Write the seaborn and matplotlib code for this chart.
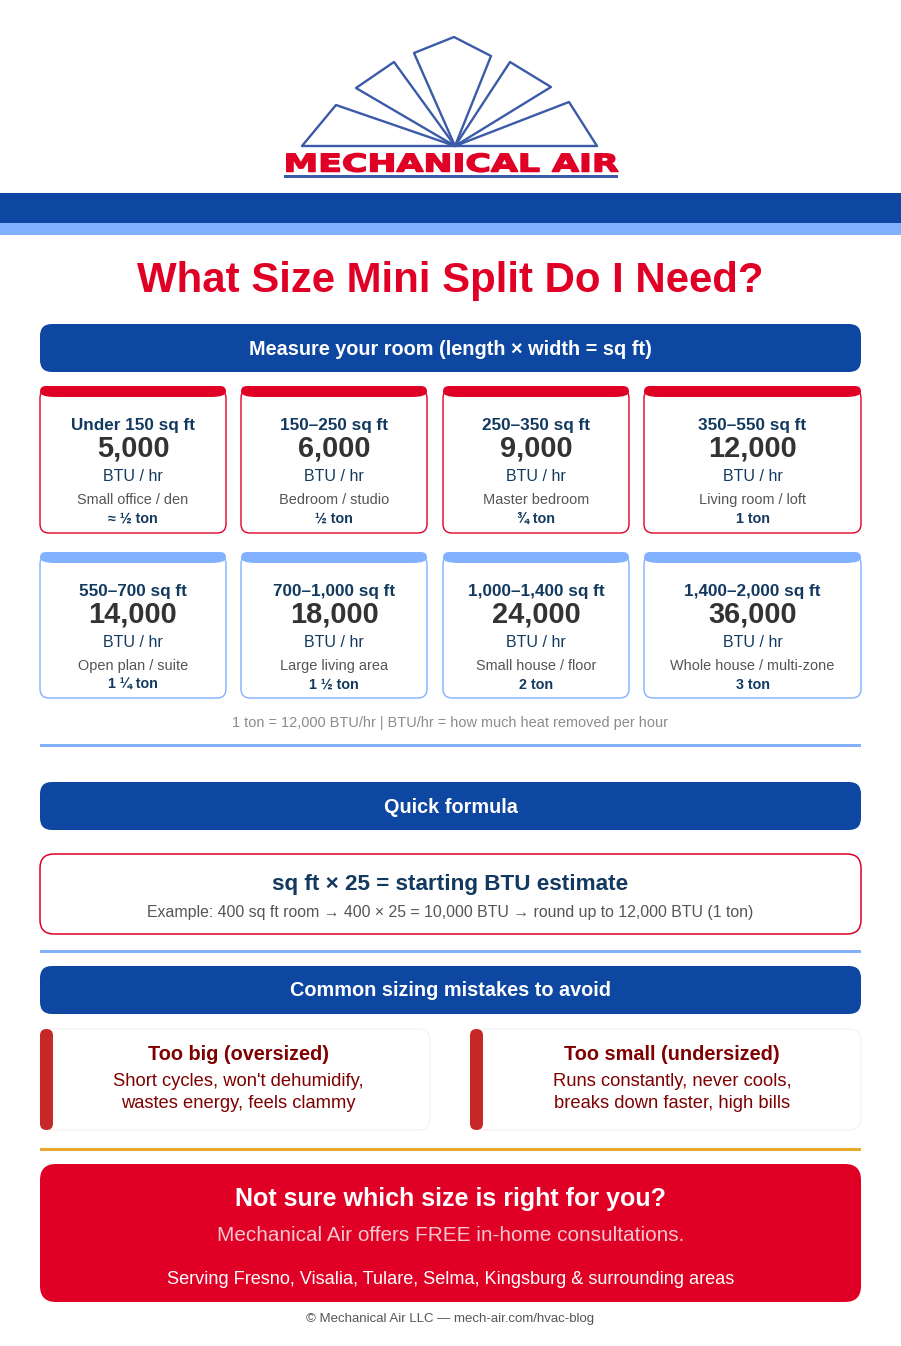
import matplotlib.pyplot as plt
import seaborn as sns
from matplotlib.patches import FancyBboxPatch, PathPatch, Polygon, Rectangle
from matplotlib.path import Path
from matplotlib.patheffects import AbstractPathEffect
from matplotlib.transforms import Affine2D

sns.set_theme(style="white")
plt.rcParams["font.family"] = ["Liberation Sans", "DejaVu Sans"]

BLUE = "#0D47A1"
LIGHT = "#82B1FF"
RED = "#E00025"
NAVY = "#12395F"
DARK = "#333333"
GREY = "#555555"
MAROON = "#7F0000"

# card contents
sizes_top = ["Under 150 sq ft", "150–250 sq ft", "250–350 sq ft", "350–550 sq ft"]
btu_top = [5000, 6000, 9000, 12000]
rooms_top = ["Small office / den", "Bedroom / studio", "Master bedroom", "Living room / loft"]
tons_top = ["≈ ½ ton", "½ ton", "¾ ton", "1 ton"]

sizes_bot = ["550–700 sq ft", "700–1,000 sq ft", "1,000–1,400 sq ft", "1,400–2,000 sq ft"]
btu_bot = [14000, 18000, 24000, 36000]
rooms_bot = ["Open plan / suite", "Large living area", "Small house / floor", "Whole house / multi-zone"]
tons_bot = ["1 ¼ ton", "1 ½ ton", "2 ton", "3 ton"]

mistake_titles = ["Too big (oversized)", "Too small (undersized)"]
mistake_text = ["Short cycles, won't dehumidify,\nwastes energy, feels clammy",
                "Runs constantly, never cools,\nbreaks down faster, high bills"]

fig = plt.figure(figsize=(9.01, 13.46), dpi=100, facecolor="white")
ax = fig.add_axes([0, 0, 1, 1])
ax.set_xlim(0, 901)
ax.set_ylim(1346, 0)
ax.axis("off")


class WideText(AbstractPathEffect):
    # widens text around a display x and thickens it, for the logo lettering
    def __init__(self, xc, sx, bold):
        super().__init__()
        self.widen = Affine2D().translate(-xc, 0).scale(sx, 1).translate(xc, 0)
        self.bold = bold

    def draw_path(self, renderer, gc, tpath, affine, rgbFace=None):
        gc0 = renderer.new_gc()
        gc0.copy_properties(gc)
        gc0.set_linewidth(self.bold)
        gc0.set_foreground(rgbFace)
        renderer.draw_path(gc0, tpath, affine + self.widen, rgbFace)
        gc0.restore()


def rbox(x0, y0, x1, y1, r, fc="none", ec="none", lw=0, z=2):
    ax.add_patch(FancyBboxPatch((x0, y0), x1 - x0, y1 - y0,
                                boxstyle=f"round,pad=0,rounding_size={r}",
                                fc=fc, ec=ec, lw=lw, zorder=z))


def card_bar(x0, y0, x1, col):
    # coloured top edge of a card: tight top corners, long tapering bottom corners
    h, rt, rb = 11, 6, 15
    mid = y0 + h / 2
    verts = [(x0 + rt, y0), (x1 - rt, y0), (x1, y0), (x1, mid), (x1, y0 + h), (x1 - rb, y0 + h),
             (x0 + rb, y0 + h), (x0, y0 + h), (x0, mid), (x0, y0), (x0 + rt, y0)]
    codes = [Path.MOVETO, Path.LINETO, Path.CURVE3, Path.CURVE3, Path.CURVE3, Path.CURVE3,
             Path.LINETO, Path.CURVE3, Path.CURVE3, Path.CURVE3, Path.CURVE3]
    ax.add_patch(PathPatch(Path(verts, codes), fc=col, ec="none", zorder=3))


def label(x, y, s, px, color, bold=False, **kw):
    # y is the middle of the capitals
    ax.text(x, y + 0.36 * px, s, fontsize=px * 0.72, color=color, ha="center", va="baseline",
            fontweight="bold" if bold else "normal", zorder=5, **kw)


def header(y0, s, dy=0):
    rbox(40, y0, 861, y0 + 48, 12, fc=BLUE)
    label(450.5, y0 + 24 + dy, s, 19.85, "white", bold=True)


def divider(y, color=LIGHT):
    ax.add_patch(Rectangle((40, y - 1.5), 821, 3, fc=color, ec="none", zorder=2))


############################### logo ################################
logo_c = "#3B5BA9"
apex = (455, 146)
fans = [[(302, 146), (336, 105), apex, (569, 102), (597, 146)],
        [(356, 88), (394, 62), apex],
        [(414, 53), (454, 37), (491, 56), apex],
        [(510, 62), (551, 87), apex]]
for pts in fans:
    ax.add_patch(Polygon(pts, closed=True, fill=False, ec=logo_c, lw=1.7, joinstyle="round"))
t = ax.text(451, 171.5, "MECHANICAL AIR", fontsize=17.5, color=RED, ha="center", va="baseline",
            fontweight="bold", family="DejaVu Sans")
t.set_path_effects([WideText(451, 1.43, 1.1)])
ax.add_patch(Rectangle((284, 175), 334, 2.6, fc=logo_c, ec="none"))

ax.add_patch(Rectangle((0, 193), 901, 30, fc=BLUE, ec="none"))
ax.add_patch(Rectangle((0, 223), 901, 12, fc=LIGHT, ec="none"))

label(450.5, 277, "What Size Mini Split Do I Need?", 42, RED, bold=True)

############################### cards ################################
header(324, "Measure your room (length × width = sq ft)")

card_x = [(40, 226), (241, 427), (443, 629), (644, 861)]
rows = [(386, 533, RED, sizes_top, btu_top, rooms_top, tons_top),
        (552, 698, LIGHT, sizes_bot, btu_bot, rooms_bot, tons_bot)]
for y0, y1, col, sizes, btus, rooms, tons in rows:
    for i, (x0, x1) in enumerate(card_x):
        xc = (x0 + x1) / 2
        rbox(x0, y0 + 3, x1, y1, 9, fc="white", ec=col, lw=1.0)
        card_bar(x0, y0, x1, col)
        label(xc, y0 + 38, sizes[i], 17.1, NAVY, bold=True)
        label(xc, y0 + 60.5, f"{btus[i]:,}", 29, DARK, bold=True)
        label(xc, y0 + 89, "BTU / hr", 16, NAVY)
        label(xc, y0 + 113, rooms[i], 14.5, GREY)
        label(xc, y0 + 132, tons[i], 14.3, NAVY, bold=True)

label(450.5, 722, "1 ton = 12,000 BTU/hr | BTU/hr = how much heat removed per hour", 14.5, "#8C8C8C")
divider(745.5)

############################### formula ################################
header(782, "Quick formula")
rbox(40, 854, 861, 934, 14, fc="white", ec=RED, lw=1.1)
label(450.5, 882, "sq ft × 25 = starting BTU estimate", 22.5, NAVY, bold=True)
label(450.5, 911.5, "Example: 400 sq ft room → 400 × 25 = 10,000 BTU → round up to 12,000 BTU (1 ton)", 15.9, GREY)
divider(951.5)

############################### mistakes ################################
header(966, "Common sizing mistakes to avoid", dy=-0.7)
for (x0, x1), xc, title, body in zip([(40, 430), (470, 861)], [238, 672], mistake_titles, mistake_text):
    rbox(x0, 1029, x1, 1130, 12, fc="white", ec="#F7F0F2", lw=0.8)
    rbox(x0, 1029, x0 + 13, 1130, 6.5, fc="#C62828")
    label(xc, 1053, title, 19.85, MAROON, bold=True)
    for j, line in enumerate(body.split("\n")):
        label(xc, 1079 + 22 * j, line, 18.4, MAROON)

divider(1149.5, "#E8A92E")

############################### call to action ################################
rbox(40, 1164, 861, 1302, 16, fc=RED)
label(450.5, 1197, "Not sure which size is right for you?", 25, "white", bold=True)
label(450.5, 1234, "Mechanical Air offers FREE in-home consultations.", 20.8, "#F6C6CF")
label(450.5, 1277.3, "Serving Fresno, Visalia, Tulare, Selma, Kingsburg & surrounding areas", 18.1, "white")
label(450.5, 1317, "© Mechanical Air LLC — mech-air.com/hvac-blog", 13.2, GREY)

fig.savefig("out.png", dpi=100)
